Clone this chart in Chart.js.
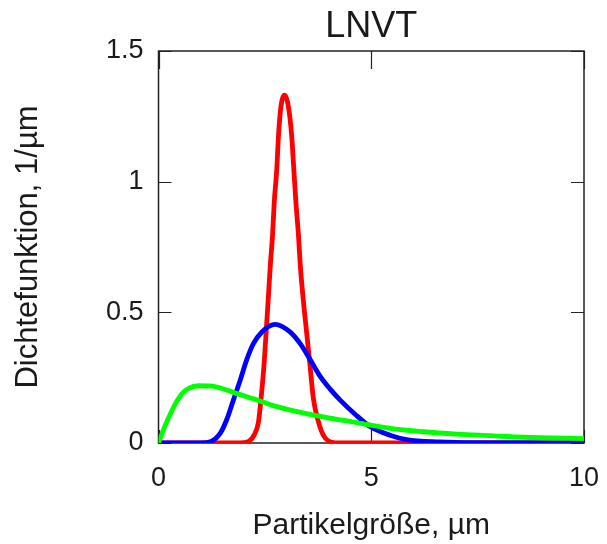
<!DOCTYPE html>
<html>
<head>
<meta charset="utf-8">
<title>LNVT</title>
<script src="https://cdn.jsdelivr.net/npm/chart.js@4.4.0/dist/chart.umd.min.js"></script>
<style>
  html, body { margin: 0; padding: 0; background: #fff; }
  #chart { display: block; }
</style>
</head>
<body>
<canvas id="chart" width="607" height="544"></canvas>
<script>
// values
const redX = [0, 1.9, 2.11, 2.25, 2.35, 2.41, 2.48, 2.53, 2.58, 2.63, 2.68, 2.72, 2.78, 2.82, 2.88, 2.97, 3.05, 3.13, 3.18, 3.23, 3.29, 3.33, 3.40, 3.48, 3.56, 3.64, 3.76, 3.87, 4.03, 4.3, 10];
const redY = [0, 0, 0.005, 0.031, 0.081, 0.17, 0.298, 0.425, 0.552, 0.685, 0.794, 0.92, 1.048, 1.176, 1.29, 1.331, 1.29, 1.176, 1.048, 0.92, 0.794, 0.685, 0.552, 0.425, 0.298, 0.17, 0.081, 0.031, 0.005, 0, 0];

const blueX = [0, 1.0, 1.22, 1.45, 1.60, 1.76, 1.92, 2.07, 2.23, 2.43, 2.74, 3.09, 3.33, 3.56, 3.80, 4.03, 4.27, 4.62, 5.0, 5.44, 5.83, 6.6, 7.5, 10];
const blueY = [0, 0, 0.005, 0.037, 0.088, 0.164, 0.24, 0.317, 0.38, 0.425, 0.454, 0.425, 0.38, 0.32, 0.255, 0.207, 0.164, 0.11, 0.06, 0.03, 0.013, 0.004, 0.001, 0];

const greenX = [0, 0.08, 0.16, 0.27, 0.39, 0.55, 0.70, 0.94, 1.25, 1.56, 1.88, 2.27, 2.66, 3.1, 3.87, 4.66, 5.44, 6.22, 7.01, 7.79, 8.57, 10];
const greenY = [0, 0.035, 0.068, 0.108, 0.148, 0.188, 0.208, 0.219, 0.218, 0.205, 0.187, 0.167, 0.145, 0.126, 0.10, 0.078, 0.056, 0.043, 0.034, 0.028, 0.022, 0.017];

const xTicks = [0, 5, 10];
const yTicks = [0, 0.5, 1, 1.5];

const titleText = "LNVT";
const xLabel = "Partikelgröße, µm";
const yLabel = "Dichtefunktion, 1/µm";

const FONT = "'Liberation Sans', Arial, Helvetica, sans-serif";
const TEXT_COLOR = "#1a1a1a";

function toPoints(xs, ys) {
  return xs.map((x, i) => ({ x: x, y: ys[i] }));
}

// box round the plot and inward tick marks on all four sides
const boxPlugin = {
  id: "box",
  beforeDatasetsDraw(chart) {
    const ctx = chart.ctx;
    const a = chart.chartArea;
    const xs = chart.scales.x;
    const ys = chart.scales.y;
    ctx.save();
    ctx.strokeStyle = "#222";
    ctx.lineWidth = 1.5;
    ctx.strokeRect(a.left, a.top, a.right - a.left, a.bottom - a.top);
    ctx.lineWidth = 1.2;
    ctx.beginPath();
    xTicks.forEach((v) => {
      const px = Math.round(xs.getPixelForValue(v)) + 0.5;
      ctx.moveTo(px, a.bottom);
      ctx.lineTo(px, a.bottom - 13);
      ctx.moveTo(px, a.top);
      ctx.lineTo(px, a.top + 18);
    });
    yTicks.forEach((v) => {
      const py = Math.round(ys.getPixelForValue(v)) + 0.5;
      ctx.moveTo(a.left, py);
      ctx.lineTo(a.left + 13, py);
      ctx.moveTo(a.right, py);
      ctx.lineTo(a.right - 13, py);
    });
    ctx.stroke();
    ctx.restore();
  }
};

const ctx = document.getElementById("chart");

new Chart(ctx, {
  type: "line",
  data: {
    datasets: [
      {
        label: "rot",
        data: toPoints(redX, redY),
        borderColor: "#ff0000",
        order: 3
      },
      {
        label: "blau",
        data: toPoints(blueX, blueY),
        borderColor: "#0000ff",
        order: 2
      },
      {
        label: "grün",
        data: toPoints(greenX, greenY),
        borderColor: "#00ff00",
        order: 1
      }
    ]
  },
  options: {
    responsive: false,
    animation: false,
    devicePixelRatio: 1,
    layout: { padding: { left: 0, right: 23, top: 0, bottom: 0 } },
    datasets: {
      line: {
        borderWidth: 4.8,
        pointRadius: 0,
        fill: false,
        cubicInterpolationMode: "monotone",
        clip: 0
      }
    },
    plugins: {
      legend: { display: false },
      tooltip: { enabled: false },
      title: {
        display: true,
        text: titleText,
        fullSize: false,
        color: TEXT_COLOR,
        font: { family: FONT, size: 36, weight: "normal", lineHeight: 1 },
        padding: { top: 9, bottom: 6 }
      }
    },
    scales: {
      x: {
        type: "linear",
        min: 0,
        max: 10,
        grid: { display: false, drawTicks: false },
        border: { display: false },
        ticks: {
          stepSize: 5,
          autoSkip: false,
          maxRotation: 0,
          padding: 19,
          color: TEXT_COLOR,
          font: { family: FONT, size: 27 },
          callback: (v) => String(v)
        },
        title: {
          display: true,
          text: xLabel,
          color: TEXT_COLOR,
          font: { family: FONT, size: 30 },
          padding: { top: 0, bottom: 0 }
        },
        afterFit: (scale) => {
          scale.height = 101;
          scale.paddingLeft = 0;
          scale.paddingRight = 0;
        }
      },
      y: {
        min: 0,
        max: 1.5,
        grid: { display: false, drawTicks: false },
        border: { display: false },
        ticks: {
          stepSize: 0.5,
          autoSkip: false,
          padding: 15,
          color: TEXT_COLOR,
          font: { family: FONT, size: 27 },
          callback: (v) => String(v)
        },
        title: {
          display: true,
          text: yLabel,
          color: TEXT_COLOR,
          font: { family: FONT, size: 31 },
          padding: { top: 10, bottom: 0 }
        },
        afterFit: (scale) => {
          scale.width = 158.5;
          scale.paddingTop = 0;
          scale.paddingBottom = 0;
        }
      }
    }
  },
  plugins: [boxPlugin]
});
</script>
</body>
</html>
